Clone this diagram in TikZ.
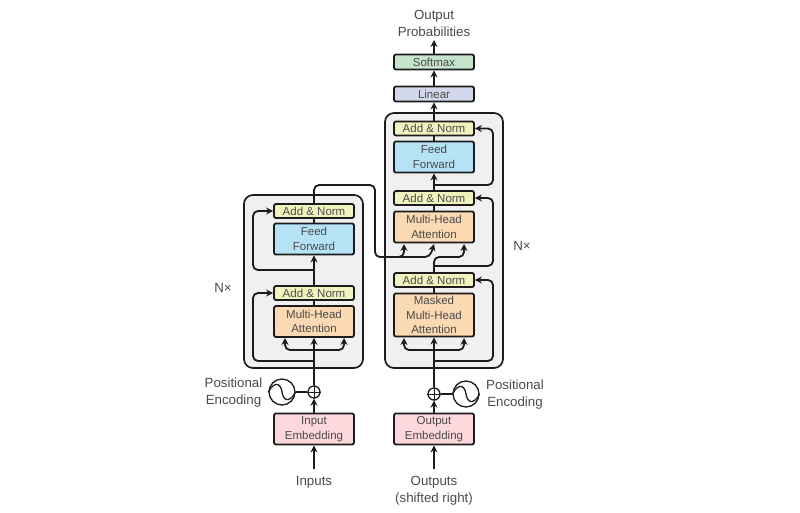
\documentclass[tikz,border=0pt]{standalone}
\usepackage{fontspec}
\setmainfont{Liberation Sans}
\usetikzlibrary{arrows.meta,calc}
\definecolor{txt}{HTML}{4A4A4A}
\definecolor{anfill}{HTML}{F1F3BE}
\definecolor{fffill}{HTML}{B6E2F5}
\definecolor{mhfill}{HTML}{FBD9B2}
\definecolor{emfill}{HTML}{FCD8DC}
\definecolor{smfill}{HTML}{C5E4CB}
\definecolor{lnfill}{HTML}{D3D7EC}
\definecolor{stackfill}{HTML}{F0F0F0}
\definecolor{ink}{HTML}{1C1C1C}
\tikzset{
  blk/.style={draw=ink,line width=1.8pt,rounded corners=2pt,minimum width=80pt,inner sep=0pt,align=center,text=txt,font=\fontsize{11.5}{14.5}\selectfont},
  addnorm/.style={blk,fill=anfill,minimum height=14pt},
  feedfwd/.style={blk,fill=fffill,minimum height=31pt},
  attn/.style={blk,fill=mhfill,minimum height=31pt},
  maskattn/.style={blk,fill=mhfill,minimum height=43pt},
  embed/.style={blk,fill=emfill,minimum height=31pt},
  softm/.style={blk,fill=smfill,minimum height=15pt},
  lin/.style={blk,fill=lnfill,minimum height=15pt},
  stackbox/.style={draw=ink,line width=1.7pt,fill=stackfill,rounded corners=9pt,inner sep=0pt},
  lbl/.style={align=center,text=txt,inner sep=0pt,font=\fontsize{13.3}{17}\selectfont},
  wire/.style={draw=ink,line width=1.8pt,rounded corners=5pt},
  arr/.style={wire,-{Stealth[length=7pt,width=7pt]}},
  roundel/.style={draw=ink,line width=1.3pt,circle,inner sep=0pt,fill=white},
}
\begin{document}
\begin{tikzpicture}[x=1pt,y=-1pt]
\useasboundingbox (0,0) rectangle (800,512);
% stacks
\node[stackbox,minimum width=119pt,minimum height=173pt] (encstack) at (303.5,281.5) {};
\node[stackbox,minimum width=118pt,minimum height=255pt] (decstack) at (444,240.5) {};
% encoder
\node[addnorm] (ean2) at (314,211) {Add \& Norm};
\node[feedfwd] (eff) at (314,239) {Feed\\Forward};
\node[addnorm] (ean1) at (314,293) {Add \& Norm};
\node[attn] (emh) at (314,321.5) {Multi-Head\\Attention};
\node[embed] (eemb) at (314,429) {Input\\Embedding};
\node[roundel,minimum size=12pt] (eplus) at (314,392) {};
\node[roundel,minimum size=26pt] (esin) at (282,392) {};
% decoder
\node[addnorm] (dan3) at (434,128.5) {Add \& Norm};
\node[feedfwd] (dff) at (434,157) {Feed\\Forward};
\node[addnorm] (dan2) at (434,198) {Add \& Norm};
\node[attn] (dmh) at (434,227) {Multi-Head\\Attention};
\node[addnorm] (dan1) at (434,280) {Add \& Norm};
\node[maskattn] (dmm) at (434,315) {Masked\\Multi-Head\\Attention};
\node[embed] (demb) at (434,429) {Output\\Embedding};
\node[roundel,minimum size=12pt] (dplus) at (434,394) {};
\node[roundel,minimum size=26pt] (dsin) at (466,394) {};
\node[lin] (linear) at (434,94) {Linear};
\node[softm] (softmax) at (434,62) {Softmax};
% labels
\node[lbl] (outprob) at (434,23.5) {Output\\Probabilities};
\node[lbl] (enx) at (223,288) {N×};
\node[lbl] (dnx) at (522,246) {N×};
\node[lbl] (epos) at (233.5,392.5) {Positional\\Encoding};
\node[lbl] (dpos) at (515,394.5) {Positional\\Encoding};
\node[lbl] (inp) at (314,482) {Inputs};
\node[lbl,anchor=north] (outp) at (434,476) {Outputs\\(shifted right)};
% plus and sine glyphs
\draw[ink,line width=1pt] (eplus.north) -- (eplus.south) (eplus.west) -- (eplus.east);
\draw[ink,line width=1pt] (dplus.north) -- (dplus.south) (dplus.west) -- (dplus.east);
\draw[ink,line width=1.3pt] (esin.west) .. controls (275,380) and (281,384) .. (esin.center) .. controls (283,400) and (289,404) .. (esin.east);
\draw[ink,line width=1.3pt] (dsin.west) .. controls (459,382) and (465,386) .. (dsin.center) .. controls (467,402) and (473,406) .. (dsin.east);
\draw[wire] (esin) -- (eplus);
\draw[wire] (dsin) -- (dplus);
% free ends
\coordinate (einfoot) at (314,469);
\coordinate (dinfoot) at (434,469);
\coordinate (probfoot) at (434,40);
\coordinate (ebr) at (314,350);
\coordinate (erl) at (285,338);
\coordinate (err) at (344,338);
\coordinate (dbr) at (434,350);
\coordinate (drl) at (404,244);
\coordinate (drlb) at (396,257);
\coordinate (drm) at (434,244);
\coordinate (drr) at (464,244);
\coordinate (dml) at (404,338);
\coordinate (dmr) at (464,338);
\coordinate (eres1) at (314,361);
\coordinate (eres2) at (314,270);
\coordinate (dres1) at (434,361);
\coordinate (dres2) at (434,266);
\coordinate (dres3) at (434,185);
% encoder wires
\draw[arr] (einfoot) -- (eemb.south);
\draw[arr] (eemb.north) -- (eplus.south);
\draw[arr] (eplus.north) -- (emh.south);
\draw[wire] (emh.north) -- (ean1.south);
\draw[arr] (ean1.north) -- (eff.south);
\draw[wire] (eff.north) -- (ean2.south);
\draw[arr] (ebr) -- (285,350) -- (erl);
\draw[arr] (ebr) -- (344,350) -- (err);
\draw[arr] (eres1) -- (253,361) -- (253,293) -- (ean1.west);
\draw[arr] (eres2) -- (253,270) -- (253,211) -- (ean2.west);
% encoder to decoder
\draw[arr] (ean2.north) -- (314,185) -- (375,185) -- (375,257) -- (430,257) -- (drm);
\draw[arr] (drlb) -- (404,257) -- (drl);
% decoder wires
\draw[arr] (dinfoot) -- (demb.south);
\draw[arr] (demb.north) -- (dplus.south);
\draw[arr] (dplus.north) -- (dmm.south);
\draw[wire] (dmm.north) -- (dan1.south);
\draw[arr] (dan1.north) -- (434,257) -- (464,257) -- (drr);
\draw[wire] (dmh.north) -- (dan2.south);
\draw[arr] (dan2.north) -- (dff.south);
\draw[wire] (dff.north) -- (dan3.south);
\draw[arr] (dan3.north) -- (linear.south);
\draw[arr] (linear.north) -- (softmax.south);
\draw[arr] (softmax.north) -- (probfoot);
\draw[arr] (dbr) -- (404,350) -- (dml);
\draw[arr] (dbr) -- (464,350) -- (dmr);
\draw[arr] (dres1) -- (493,361) -- (493,280) -- (dan1.east);
\draw[arr] (dres2) -- (493,266) -- (493,198) -- (dan2.east);
\draw[arr] (dres3) -- (493,185) -- (493,128.5) -- (dan3.east);
\end{tikzpicture}
\end{document}
